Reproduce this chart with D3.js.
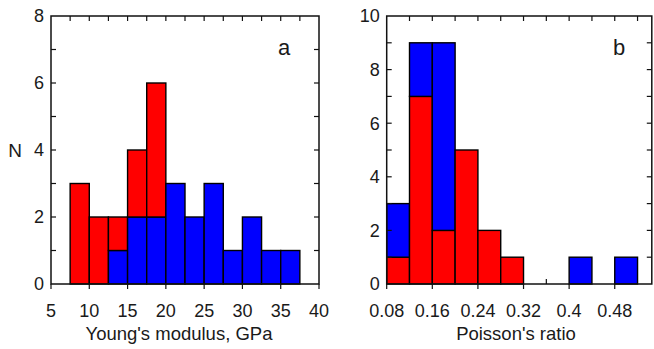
<!DOCTYPE html>
<html>
<head>
<meta charset="utf-8">
<script src="https://cdn.jsdelivr.net/npm/d3@7"></script>
<style>
  body { margin: 0; background: #fff; }
  svg { display: block; font-family: "Liberation Sans", Arial, sans-serif; }
</style>
</head>
<body>
<svg id="chart" width="654" height="349"></svg>
<script>
// panel a: Young's modulus histogram (bin width 2.5 GPa)
const youngEdges = [7.5, 10, 12.5, 15, 17.5, 20, 22.5, 25, 27.5, 30, 32.5, 35];
const youngBlue = [0, 0, 1, 2, 2, 3, 2, 3, 1, 2, 1, 1];
const youngRed = [3, 2, 1, 2, 4, 0, 0, 0, 0, 0, 0, 0];
const youngTicks = [5, 10, 15, 20, 25, 30, 35, 40];

// panel b: Poisson's ratio histogram (bin width 0.04)
const poissonEdges = [0.08, 0.12, 0.16, 0.20, 0.24, 0.28, 0.32, 0.36, 0.40, 0.44, 0.48];
const poissonRed = [1, 7, 2, 5, 2, 1, 0, 0, 0, 0, 0];
const poissonBlue = [2, 2, 7, 0, 0, 0, 0, 0, 1, 0, 1];
const poissonTicks = [0.08, 0.16, 0.24, 0.32, 0.4, 0.48];

const svg = d3.select("#chart");
const plotTop = 16, plotBottom = 284;
const FS = 18;

function panel(opt) {
  const x = d3.scaleLinear().domain(opt.xDomain).range(opt.xRange);
  const y = d3.scaleLinear().domain([0, opt.yMax]).range([plotBottom, plotTop]);
  const g = svg.append("g");

  // stacked bars: first series on the bottom
  opt.edges.forEach((e, i) => {
    let base = 0;
    opt.series.forEach(s => {
      const v = s.values[i];
      if (v > 0) {
        g.append("rect")
          .attr("x", x(e))
          .attr("y", y(base + v))
          .attr("width", x(e + opt.binW) - x(e))
          .attr("height", y(base) - y(base + v))
          .attr("fill", s.color)
          .attr("stroke", "#000")
          .attr("stroke-width", 1.4);
      }
      base += v;
    });
  });

  const [x0, x1] = opt.xRange;
  // frame
  g.append("rect")
    .attr("x", x0).attr("y", plotTop)
    .attr("width", x1 - x0).attr("height", plotBottom - plotTop)
    .attr("fill", "none").attr("stroke", "#111").attr("stroke-width", 1.5);

  const tl = 5;
  // top ticks (inward)
  d3.range(opt.xDomain[0], opt.xDomain[1] + 1e-9, opt.topStep).forEach(v => {
    const px = x(v);
    if (px <= x0 + 1 || px >= x1 - 1) return;
    g.append("line").attr("x1", px).attr("x2", px).attr("y1", plotTop).attr("y2", plotTop + tl)
      .attr("stroke", "#111").attr("stroke-width", 1.2);
  });
  // bottom ticks (outward) + labels
  opt.ticks.forEach(v => {
    const px = x(v);
    g.append("line").attr("x1", px).attr("x2", px).attr("y1", plotBottom).attr("y2", plotBottom + tl)
      .attr("stroke", "#111").attr("stroke-width", 1.2);
    g.append("text").attr("x", px).attr("y", plotBottom + 33)
      .attr("text-anchor", "middle").attr("font-size", FS).attr("fill", "#1a1a1a")
      .text(opt.fmt(v));
  });
  (opt.innerBottom || []).forEach(v => {
    const px = x(v);
    g.append("line").attr("x1", px).attr("x2", px).attr("y1", plotBottom).attr("y2", plotBottom - tl)
      .attr("stroke", "#111").attr("stroke-width", 1.2);
  });
  // left/right ticks (inward) every unit
  d3.range(1, opt.yMax).forEach(v => {
    const py = y(v);
    g.append("line").attr("x1", x0).attr("x2", x0 + tl).attr("y1", py).attr("y2", py)
      .attr("stroke", "#111").attr("stroke-width", 1.2);
    g.append("line").attr("x1", x1).attr("x2", x1 - tl).attr("y1", py).attr("y2", py)
      .attr("stroke", "#111").attr("stroke-width", 1.2);
  });
  // y labels
  d3.range(0, opt.yMax + 1, 2).forEach(v => {
    g.append("text").attr("x", x0 - 7).attr("y", y(v)).attr("dy", "0.36em")
      .attr("text-anchor", "end").attr("font-size", FS).attr("fill", "#1a1a1a")
      .text(v);
  });
  // axis title
  g.append("text").attr("x", opt.titleX).attr("y", 340)
    .attr("text-anchor", "middle").attr("font-size", FS + 0.5).attr("fill", "#1a1a1a")
    .text(opt.title);
  // panel letter
  g.append("text").attr("x", opt.letterX).attr("y", 55)
    .attr("text-anchor", "middle").attr("font-size", 22).attr("fill", "#1a1a1a")
    .text(opt.letter);
}

panel({
  xDomain: [5, 40], xRange: [51, 319], yMax: 8, binW: 2.5, topStep: 2.5,
  edges: youngEdges,
  series: [{ values: youngBlue, color: "#0000ff" }, { values: youngRed, color: "#ff0000" }],
  ticks: youngTicks, fmt: d => d,
  title: "Young's modulus, GPa", titleX: 179, letter: "a", letterX: 284
});

panel({
  xDomain: [0.08, 0.545], xRange: [386.7, 651.8], yMax: 10, binW: 0.04, topStep: 0.04,
  edges: poissonEdges,
  series: [{ values: poissonRed, color: "#ff0000" }, { values: poissonBlue, color: "#0000ff" }],
  ticks: poissonTicks, fmt: d => String(+d.toFixed(2)), innerBottom: [0.36],
  title: "Poisson's ratio", titleX: 516, letter: "b", letterX: 619
});

// shared y-axis title
svg.append("text").attr("x", 15).attr("y", 150).attr("dy", "0.36em")
  .attr("text-anchor", "middle").attr("font-size", FS + 1).attr("fill", "#1a1a1a")
  .text("N");
</script>
</body>
</html>
